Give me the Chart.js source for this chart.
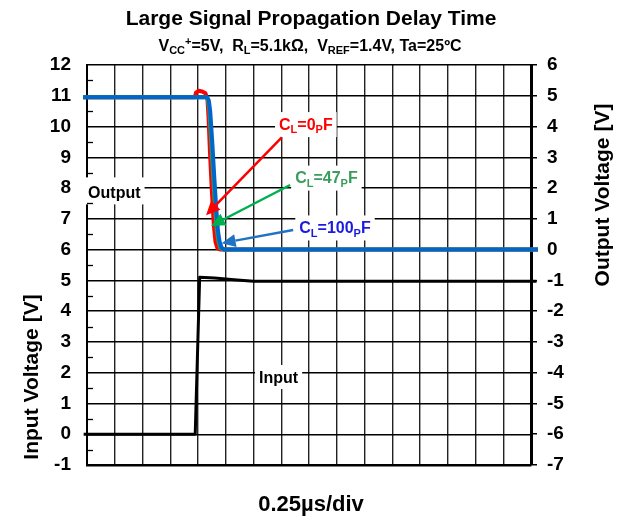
<!DOCTYPE html>
<html>
<head>
<meta charset="utf-8">
<script src="https://cdn.jsdelivr.net/npm/chart.js"></script>
<style>
  html, body { margin: 0; padding: 0; background: #fff; }
  canvas { display: block; }
</style>
</head>
<body>
<canvas id="delayChart" width="625" height="519"></canvas>
<script>
// x is in divisions (0.25us/div), input on left axis, outputs on right axis
const xTicks = [0, 1, 2, 3, 4, 5, 6, 7, 8, 9, 10, 11, 12, 13, 14, 15, 16];
const leftTicks = [-1, 0, 1, 2, 3, 4, 5, 6, 7, 8, 9, 10, 11, 12];
const rightTicks = [-7, -6, -5, -4, -3, -2, -1, 0, 1, 2, 3, 4, 5, 6];
const leftMinor = [-0.5, 0.5, 1.5, 2.5, 3.5, 4.5, 5.5, 6.5, 7.5, 8.5, 9.5, 10.5, 11.5];

const inputX = [-0.12, 3.9, 4.06, 4.6, 5.3, 6.0, 16.2];
const inputV = [0, 0, 5.1, 5.08, 5.02, 4.97, 4.97];

const out0X = [-0.14, 3.88, 3.93, 4.02, 4.15, 4.27, 4.34, 4.38, 4.43, 4.5, 4.57, 4.63, 4.7, 4.8, 16.25];
const out0V = [4.95, 4.95, 5.1, 5.16, 5.14, 5.08, 4.9, 4.3, 3.2, 1.9, 0.8, 0.25, 0.05, 0, 0];

const out47X = [-0.14, 4.3, 4.36, 4.41, 4.48, 4.55, 4.62, 4.68, 4.74, 4.8, 4.9, 16.25];
const out47V = [4.95, 4.95, 4.85, 4.5, 3.4, 2.3, 1.3, 0.6, 0.25, 0.05, 0, 0];

const out100X = [-0.14, 4.33, 4.39, 4.44, 4.52, 4.59, 4.66, 4.72, 4.78, 4.85, 4.95, 16.25];
const out100V = [4.95, 4.95, 4.85, 4.5, 3.4, 2.3, 1.3, 0.6, 0.25, 0.06, 0, 0];

const FONT = '"Liberation Sans", Arial, sans-serif';

function pts(xs, ys) {
  return xs.map((x, i) => ({ x: x, y: ys[i] }));
}

// text pieces: s = 'sub' | 'sup'
function richWidth(ctx, parts, size, small) {
  let w = 0;
  parts.forEach(p => {
    ctx.font = 'bold ' + (p.s ? small : size) + 'px ' + FONT;
    p.w = ctx.measureText(p.t).width;
    w += p.w;
  });
  return w;
}
function drawRich(ctx, parts, x, y, size, small, color, align) {
  const w = richWidth(ctx, parts, size, small);
  let cx = align === 'center' ? x - w / 2 : x;
  ctx.fillStyle = color;
  ctx.textBaseline = 'alphabetic';
  ctx.textAlign = 'left';
  const base = y + size * 0.36;
  parts.forEach(p => {
    ctx.font = 'bold ' + (p.s ? small : size) + 'px ' + FONT;
    let dy = 0;
    if (p.s === 'sub') dy = size * 0.22;
    if (p.s === 'sup') dy = -size * 0.38;
    ctx.fillText(p.t, cx, base + dy);
    cx += p.w;
  });
  return w;
}

// annotations (positions in data units)
const notes = [
  { parts: [{ t: 'Output' }], x: 0.04, y: 7.86, axis: 'yL', color: '#000', top: 15, bottom: 12 },
  { parts: [{ t: 'Input' }], x: 6.2, y: 1.86, axis: 'yL', color: '#000', top: 12, bottom: 12 },
  { parts: [{ t: 'C' }, { t: 'L', s: 'sub' }, { t: '=0' }, { t: 'P', s: 'sub' }, { t: 'F' }], x: 6.92, y: 4.08, axis: 'yR', color: '#ff0000', top: 12, bottom: 13 },
  { parts: [{ t: 'C' }, { t: 'L', s: 'sub' }, { t: '=47' }, { t: 'P', s: 'sub' }, { t: 'F' }], x: 7.5, y: 2.34, axis: 'yR', color: '#3a9d5d', top: 12, bottom: 13 },
  { parts: [{ t: 'C' }, { t: 'L', s: 'sub' }, { t: '=100' }, { t: 'P', s: 'sub' }, { t: 'F' }], x: 7.65, y: 0.72, axis: 'yR', color: '#1a1ae0', top: 12, bottom: 13 }
];
const arrows = [
  { from: [7.02, 3.65], to: [4.29, 1.12], color: '#ff0000' },
  { from: [7.32, 2.1], to: [4.47, 0.77], color: '#00b050' },
  { from: [7.43, 0.64], to: [4.85, 0.21], color: '#1f72c4' }
];

const decor = {
  id: 'decor',
  beforeDatasetsDraw(chart) {
    const ctx = chart.ctx;
    const sx = chart.scales.x;
    ctx.save();
    notes.forEach(n => {
      const px = sx.getPixelForValue(n.x);
      const py = chart.scales[n.axis].getPixelForValue(n.y);
      const w = richWidth(ctx, n.parts, 16, 11);
      ctx.fillStyle = '#fff';
      ctx.fillRect(px - 4, py - n.top, w + 8, n.top + n.bottom);
      drawRich(ctx, n.parts, px, py, 16, 11, n.color, 'left');
    });
    ctx.restore();
  },
  afterDatasetsDraw(chart) {
    const ctx = chart.ctx;
    const sx = chart.scales.x, yL = chart.scales.yL, yR = chart.scales.yR;
    const area = chart.chartArea;
    ctx.save();
    // minor ticks inside the left axis
    ctx.strokeStyle = '#000';
    ctx.lineWidth = 1.3;
    leftMinor.forEach(v => {
      const y = Math.round(yL.getPixelForValue(v)) + 0.5;
      ctx.beginPath();
      ctx.moveTo(area.left, y);
      ctx.lineTo(area.left + 6, y);
      ctx.stroke();
    });
    // arrows
    arrows.forEach(a => {
      const x1 = sx.getPixelForValue(a.from[0]), y1 = yR.getPixelForValue(a.from[1]);
      const x2 = sx.getPixelForValue(a.to[0]), y2 = yR.getPixelForValue(a.to[1]);
      const ang = Math.atan2(y2 - y1, x2 - x1);
      const len = 14, half = 6.5;
      const bx = x2 - len * Math.cos(ang), by = y2 - len * Math.sin(ang);
      ctx.strokeStyle = a.color;
      ctx.fillStyle = a.color;
      ctx.lineWidth = 2.5;
      ctx.beginPath();
      ctx.moveTo(x1, y1);
      ctx.lineTo(bx, by);
      ctx.stroke();
      ctx.beginPath();
      ctx.moveTo(x2, y2);
      ctx.lineTo(bx + half * Math.sin(ang), by - half * Math.cos(ang));
      ctx.lineTo(bx - half * Math.sin(ang), by + half * Math.cos(ang));
      ctx.closePath();
      ctx.fill();
    });
    ctx.restore();
  },
  afterDraw(chart) {
    const ctx = chart.ctx;
    ctx.save();
    ctx.fillStyle = '#000';
    ctx.textAlign = 'center';
    ctx.textBaseline = 'middle';
    ctx.font = 'bold 21px ' + FONT;
    ctx.fillText('Large Signal Propagation Delay Time', 311, 19);
    drawRich(ctx, [
      { t: 'V' }, { t: 'CC', s: 'sub' }, { t: '+', s: 'sup' }, { t: '=5V,  R' }, { t: 'L', s: 'sub' },
      { t: '=5.1kΩ,  V' }, { t: 'REF', s: 'sub' }, { t: '=1.4V, Ta=25ºC' }
    ], 310, 45, 16, 11, '#000', 'center');
    ctx.textAlign = 'center';
    ctx.textBaseline = 'middle';
    ctx.font = 'bold 22px ' + FONT;
    ctx.fillText('0.25µs/div', 311, 505);
    ctx.font = 'bold 21px ' + FONT;
    ctx.translate(32, 377);
    ctx.rotate(-Math.PI / 2);
    ctx.fillText('Input Voltage [V]', 0, 0);
    ctx.setTransform(1, 0, 0, 1, 0, 0);
    ctx.translate(603, 195);
    ctx.rotate(-Math.PI / 2);
    ctx.fillText('Output Voltage [V]', 0, 0);
    ctx.restore();
  }
};

new Chart(document.getElementById('delayChart'), {
  type: 'line',
  data: {
    datasets: [
      { label: 'CL=100pF', data: pts(out100X, out100V), yAxisID: 'yR', borderColor: '#0066cc', borderWidth: 4, order: 0 },
      { label: 'CL=47pF', data: pts(out47X, out47V), yAxisID: 'yR', borderColor: '#2e9a5a', borderWidth: 4, order: 1 },
      { label: 'CL=0pF', data: pts(out0X, out0V), yAxisID: 'yR', borderColor: '#ff0000', borderWidth: 4, order: 2 },
      { label: 'Input', data: pts(inputX, inputV), yAxisID: 'yL', borderColor: '#000', borderWidth: 3, order: 3 }
    ]
  },
  options: {
    responsive: false,
    animation: false,
    events: [],
    layout: { padding: { top: 65, left: 0, right: 0, bottom: 0 } },
    elements: {
      point: { radius: 0 },
      line: { tension: 0, borderJoinStyle: 'round', borderCapStyle: 'butt' }
    },
    datasets: { line: { clip: false } },
    plugins: { legend: { display: false }, tooltip: { enabled: false }, title: { display: false } },
    scales: {
      x: {
        type: 'linear', min: 0, max: 16,
        afterBuildTicks: s => { s.ticks = xTicks.map(v => ({ value: v })); },
        afterFit: s => { s.height = 54; },
        ticks: { display: false },
        grid: { color: '#222', lineWidth: 1.4, drawTicks: false },
        border: { color: '#000', width: 2.5 }
      },
      yL: {
        type: 'linear', position: 'left', min: -1, max: 12,
        afterBuildTicks: s => { s.ticks = leftTicks.map(v => ({ value: v })); },
        afterFit: s => { s.width = 87; },
        ticks: { color: '#000', padding: 16, font: { family: FONT, size: 19, weight: 'bold' } },
        grid: { color: '#000', lineWidth: 1.4, drawTicks: false },
        border: { color: '#000', width: 2 }
      },
      yR: {
        type: 'linear', position: 'right', min: -7, max: 6,
        afterBuildTicks: s => { s.ticks = rightTicks.map(v => ({ value: v })); },
        afterFit: s => { s.width = 94; },
        ticks: { color: '#000', padding: 10, font: { family: FONT, size: 19, weight: 'bold' } },
        grid: { color: '#000', lineWidth: 1.5, drawOnChartArea: false, drawTicks: true, tickLength: 6 },
        border: { color: '#000', width: 3 }
      }
    }
  },
  plugins: [decor]
});
</script>
</body>
</html>
